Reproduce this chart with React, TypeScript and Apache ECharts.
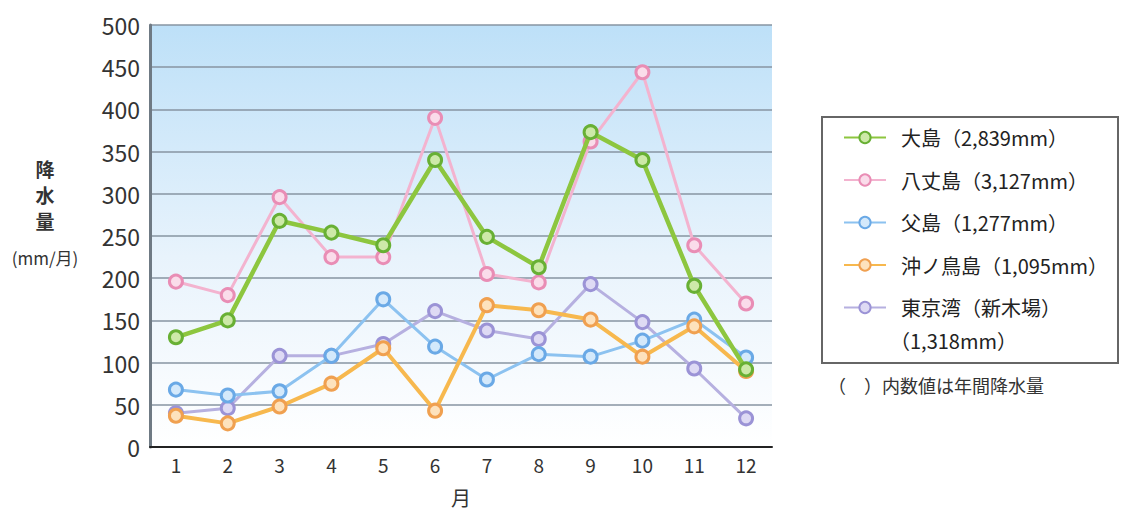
import React, { useEffect, useRef } from "react";
import * as echarts from "echarts";

// Monthly precipitation (mm/month)
const months = ["1", "2", "3", "4", "5", "6", "7", "8", "9", "10", "11", "12"];
const oshima = [130, 150, 268, 254, 239, 340, 249, 213, 373, 340, 191, 92];
const hachijojima = [196, 180, 296, 225, 225, 390, 205, 195, 362, 444, 239, 170];
const chichijima = [68, 61, 66, 108, 175, 119, 80, 110, 107, 126, 151, 106];
const okinotorishima = [37, 28, 48, 75, 117, 43, 168, 162, 151, 107, 143, 90];
const tokyoBay = [40, 46, 108, 108, 122, 161, 138, 128, 193, 148, 93, 34];

const stationNames = ["大島", "八丈島", "父島", "沖ノ鳥島", "東京湾（新木場）"];
const annualTotals = ["2,839", "3,127", "1,277", "1,095", "1,318"];
const yTicks = { min: 0, max: 500, interval: 50 };

const FONT = "'Noto Sans CJK JP', 'Noto Sans', sans-serif";

type Style = { line: string; border: string; fill: string; width: number };
const styles: Style[] = [
  { line: "#8dc63f", border: "#68b034", fill: "#cde9a8", width: 4.5 },
  { line: "#f3b3cf", border: "#e98db5", fill: "#fadcea", width: 3 },
  { line: "#8cc2f0", border: "#6aa9e6", fill: "#d4e9fb", width: 3 },
  { line: "#f7b84e", border: "#f0a050", fill: "#fde2bd", width: 4 },
  { line: "#b6b0e0", border: "#9b93d6", fill: "#dedaf4", width: 3 },
];
const values = [oshima, hachijojima, chichijima, okinotorishima, tokyoBay];
// drawing order: green on top
const zOrder = [10, 8, 6, 7, 5];

export default function App() {
  const ref = useRef<HTMLDivElement>(null);

  useEffect(() => {
    if (!ref.current) return;
    const chart = echarts.init(ref.current, null, { renderer: "svg" });

    const series = stationNames.map((name, i) => ({
      name,
      type: "line",
      data: values[i],
      z: zOrder[i],
      symbol: "circle",
      symbolSize: 13,
      lineStyle: { color: styles[i].line, width: styles[i].width },
      itemStyle: {
        color: styles[i].fill,
        borderColor: styles[i].border,
        borderWidth: 3,
      },
    }));

    chart.setOption({
      animation: false,
      grid: {
        left: 150,
        top: 25,
        width: 622,
        bottom: 56,
        show: true,
        borderWidth: 0,
        backgroundColor: new echarts.graphic.LinearGradient(0, 0, 0, 1, [
          { offset: 0, color: "#bde0f8" },
          { offset: 0.55, color: "#e8f3fc" },
          { offset: 1, color: "#ffffff" },
        ]),
      },
      xAxis: {
        type: "category",
        data: months,
        boundaryGap: true,
        name: "月",
        nameLocation: "middle",
        nameGap: 40,
        nameTextStyle: { fontFamily: FONT, fontSize: 20, color: "#333" },
        axisLine: { lineStyle: { color: "#222", width: 2 } },
        axisTick: {
          alignWithLabel: true,
          inside: true,
          length: 7,
          lineStyle: { color: "#333", width: 2 },
        },
        axisLabel: { fontFamily: FONT, fontSize: 19, color: "#333", margin: 8 },
      },
      yAxis: {
        type: "value",
        min: yTicks.min,
        max: yTicks.max,
        interval: yTicks.interval,
        axisLine: { show: true, lineStyle: { color: "#6f7a84", width: 3 } },
        axisTick: { show: false },
        axisLabel: { fontFamily: FONT, fontSize: 23, color: "#333", margin: 10 },
        splitLine: { lineStyle: { color: "#8795a2", width: 1.6 } },
      },
      legend: {
        orient: "vertical",
        left: 838,
        top: 121,
        itemWidth: 42,
        itemHeight: 14,
        itemGap: 19.5,
        data: stationNames,
        formatter: (name: string) => {
          const i = stationNames.indexOf(name);
          return i === 4 ? name : `${name}（${annualTotals[i]}mm）`;
        },
        textStyle: {
          fontFamily: FONT,
          fontSize: 20,
          lineHeight: 23,
          color: "#222",
          padding: [0, 0, 0, 10],
        },
      },
      graphic: [
        {
          type: "rect",
          shape: { x: 822, y: 117, width: 296, height: 246 },
          style: { fill: "none", stroke: "#666", lineWidth: 2 },
        },
        {
          type: "text",
          x: 890,
          y: 340,
          style: {
            text: `（${annualTotals[4]}mm）`,
            fontFamily: FONT,
            fontSize: 20,
            fill: "#222",
            verticalAlign: "middle",
          },
        },
        {
          type: "text",
          x: 828,
          y: 385,
          style: {
            text: "（　）内数値は年間降水量",
            fontFamily: FONT,
            fontSize: 18,
            fill: "#333",
            verticalAlign: "middle",
          },
        },
        ...["降", "水", "量"].map((ch, k) => ({
          type: "text",
          x: 45,
          y: 168 + k * 26,
          style: {
            text: ch,
            fontFamily: FONT,
            fontSize: 19,
            fontWeight: "bold",
            fill: "#333",
            align: "center",
            verticalAlign: "middle",
          },
        })),
        {
          type: "text",
          x: 45,
          y: 257,
          style: {
            text: "(mm/月)",
            fontFamily: FONT,
            fontSize: 17,
            fill: "#333",
            align: "center",
            verticalAlign: "middle",
          },
        },
      ],
      series,
    });

    return () => chart.dispose();
  }, []);

  return (
    <div
      ref={ref}
      style={{ position: "absolute", left: 0, top: 0, width: 1128, height: 512 }}
    />
  );
}
